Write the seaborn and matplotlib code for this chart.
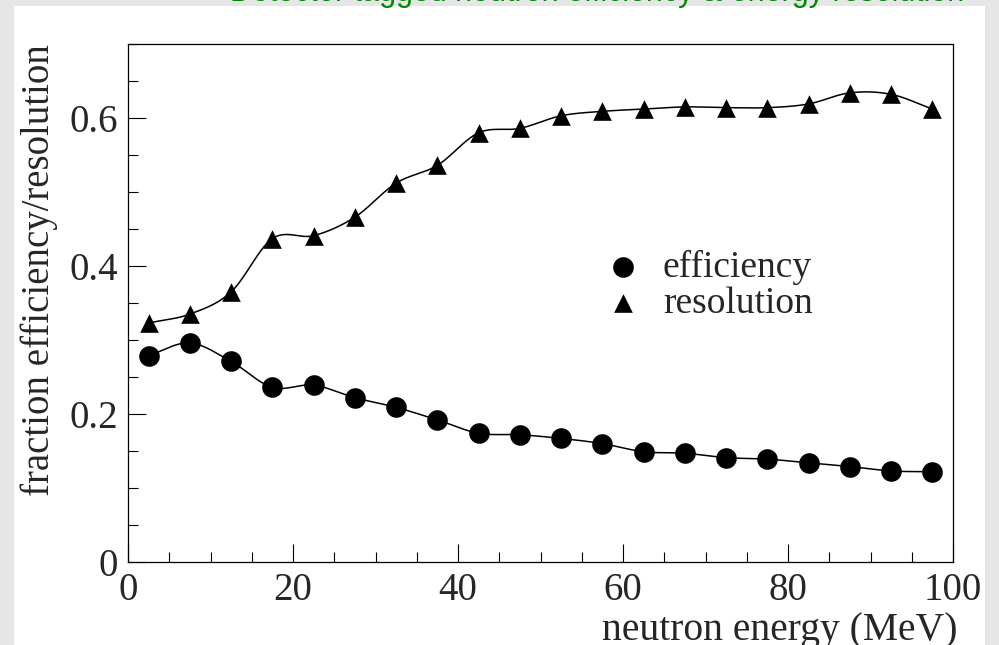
import numpy as np
import matplotlib
matplotlib.use('Agg')
import matplotlib.pyplot as plt
import seaborn as sns
from matplotlib.patches import Rectangle
from matplotlib.ticker import MultipleLocator, FuncFormatter

# ---- data ----
energy = [2.5, 7.5, 12.5, 17.5, 22.5, 27.5, 32.5, 37.5, 42.5, 47.5,
          52.5, 57.5, 62.5, 67.5, 72.5, 77.5, 82.5, 87.5, 92.5, 97.5]
efficiency = [0.279, 0.296, 0.271, 0.236, 0.239, 0.222, 0.209, 0.192, 0.174, 0.172,
              0.167, 0.160, 0.149, 0.147, 0.141, 0.139, 0.134, 0.129, 0.123, 0.122]
resolution = [0.323, 0.335, 0.365, 0.437, 0.441, 0.466, 0.512, 0.536, 0.580, 0.586,
              0.603, 0.609, 0.612, 0.615, 0.614, 0.614, 0.619, 0.634, 0.632, 0.612]
series_labels = ['efficiency', 'resolution']
x_ticks = [0, 20, 40, 60, 80, 100]
y_ticks = [0, 0.2, 0.4, 0.6]
title_text = 'Detector tagged neutron efficiency & energy resolution'
xlabel_text = 'neutron energy (MeV)'
ylabel_text = 'fraction efficiency/resolution'


def smooth_curve(x, y, n=24):
    """Cubic Hermite (Catmull-Rom style) curve through the data points."""
    x = np.asarray(x, float)
    y = np.asarray(y, float)
    m = np.gradient(y, x)
    xs, ys = [], []
    for i in range(len(x) - 1):
        t = np.linspace(0, 1, n, endpoint=False)
        h = x[i + 1] - x[i]
        h00 = 2 * t**3 - 3 * t**2 + 1
        h10 = t**3 - 2 * t**2 + t
        h01 = -2 * t**3 + 3 * t**2
        h11 = t**3 - t**2
        xs.append(x[i] + t * h)
        ys.append(h00 * y[i] + h10 * h * m[i] + h01 * y[i + 1] + h11 * h * m[i + 1])
    xs.append([x[-1]])
    ys.append([y[-1]])
    return np.concatenate(xs), np.concatenate(ys)


sns.set_theme(style='white')
plt.rcParams['font.family'] = ['Liberation Serif', 'DejaVu Serif']

fig = plt.figure(figsize=(9.99, 6.45), dpi=100, facecolor='#e6e6e6')
fig.patches.append(Rectangle((14 / 999, 0), (985 - 14) / 999, 1 - 6 / 645,
                             transform=fig.transFigure, facecolor='white',
                             edgecolor='none', zorder=-1))
ax = fig.add_axes([128 / 999, 1 - 562 / 645, 825 / 999, 518 / 645])
ax.set_facecolor('white')

for yvals in (efficiency, resolution):
    cx, cy = smooth_curve(energy, yvals)
    sns.lineplot(x=cx, y=cy, ax=ax, color='black', lw=1.1, sort=False,
                 estimator=None, zorder=2)

sns.scatterplot(x=energy, y=efficiency, ax=ax, marker='o', s=220,
                color='black', linewidth=0, zorder=3, label=series_labels[0])
sns.scatterplot(x=energy, y=resolution, ax=ax, marker='^', s=180,
                color='black', linewidth=0, zorder=3, label=series_labels[1])

ax.set_xlim(0, 100)
ax.set_ylim(0, 0.7)
ax.set_xticks(x_ticks)
ax.set_yticks(y_ticks)
ax.xaxis.set_minor_locator(MultipleLocator(5))
ax.yaxis.set_minor_locator(MultipleLocator(0.05))
fmt = FuncFormatter(lambda v, p: '0' if abs(v) < 1e-9 else f'{v:g}')
ax.xaxis.set_major_formatter(fmt)
ax.yaxis.set_major_formatter(fmt)
ax.tick_params(which='both', direction='in', top=False, right=False,
               bottom=True, left=True, color='black', width=0.8)
ax.tick_params(which='major', length=13)
ax.tick_params(which='minor', length=7)
ax.tick_params(axis='x', which='major', labelsize=28, pad=7)
ax.tick_params(axis='y', which='major', labelsize=28, pad=7)
for sp in ax.spines.values():
    sp.set_visible(True)
    sp.set_color('black')
    sp.set_linewidth(0.9)

ax.set_xlabel(xlabel_text, fontsize=28.5, loc='right')
ax.xaxis.set_label_coords(1.005, -0.097)
ax.set_ylabel(ylabel_text, fontsize=28, loc='top')
ax.yaxis.set_label_coords(-0.085, 1.0)

handles, labels = ax.get_legend_handles_labels()
ax.legend(handles, labels, loc='center left', bbox_to_anchor=(0.577, 0.534),
          frameon=False, fontsize=27, handlelength=1.0, handletextpad=0.57,
          borderpad=0, borderaxespad=0, labelspacing=0.03, scatterpoints=1)

fig.text(230 / 999, 1 - 0.5 / 645, title_text, color='#008800', fontsize=22,
         family=['Liberation Sans', 'DejaVu Sans'], va='baseline', ha='left')

fig.savefig('out.png', dpi=100, facecolor=fig.get_facecolor())
